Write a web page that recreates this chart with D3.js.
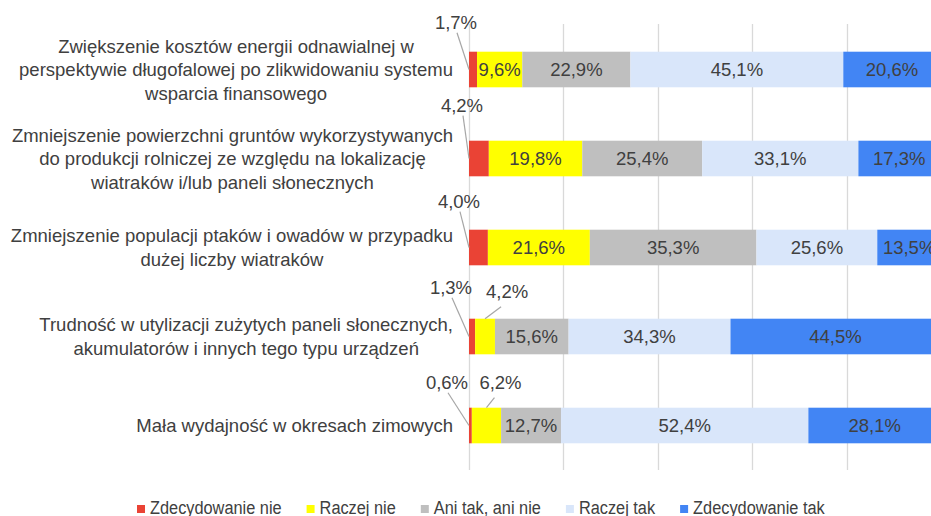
<!DOCTYPE html>
<html>
<head>
<meta charset="utf-8">
<script src="https://cdn.jsdelivr.net/npm/d3@7/dist/d3.min.js"></script>
<style>
  html, body { margin: 0; padding: 0; background: #fff; overflow: hidden; }
  svg { display: block; }
</style>
</head>
<body>
<svg id="chart" width="931" height="516"></svg>
<script>
// Survey answers about drawbacks of renewable energy (percent of respondents)
const categories = [
  "Zwiększenie kosztów energii odnawialnej w\nperspektywie długofalowej po zlikwidowaniu systemu\nwsparcia finansowego",
  "Zmniejszenie powierzchni gruntów wykorzystywanych\ndo produkcji rolniczej ze względu na lokalizację\nwiatraków i/lub paneli słonecznych",
  "Zmniejszenie populacji ptaków i owadów w przypadku\ndużej liczby wiatraków",
  "Trudność w utylizacji zużytych paneli słonecznych,\nakumulatorów i innych tego typu urządzeń",
  "Mała wydajność w okresach zimowych"
];
const seriesNames = ["Zdecydowanie nie", "Raczej nie", "Ani tak, ani nie", "Raczej tak", "Zdecydowanie tak"];
const zdecydowanieNie = [1.7, 4.2, 4.0, 1.3, 0.6];
const raczejNie       = [9.6, 19.8, 21.6, 4.2, 6.2];
const aniTakAniNie    = [22.9, 25.4, 35.3, 15.6, 12.7];
const raczejTak       = [45.1, 33.1, 25.6, 34.3, 52.4];
const zdecydowanieTak = [20.6, 17.3, 13.5, 44.5, 28.1];
const xTicks = [0, 20, 40, 60, 80, 100];

const colors = ["#EA4335", "#FFFF00", "#BFBFBF", "#D9E6FA", "#4285F4"];
const textColor = "#404040";
const font = "'Liberation Sans', Arial, sans-serif";

// Small-segment callouts: nudges for the label text (dx, dy) per row
const redNudge = [[-13, -23], [-7, -29], [-10, -22], [-18, -25], [-22, -19]];
const yellowNudge = [null, null, null, [22, -21], [14, -19]];

const svg = d3.select("#chart");
const margin = { left: 469, top: 25, bottom: 46 };
const plotWidth = 472;
const height = 516;

const rows = categories.map((c, i) => {
  const vals = [zdecydowanieNie[i], raczejNie[i], aniTakAniNie[i], raczejTak[i], zdecydowanieTak[i]];
  let acc = 0;
  const segs = vals.map((v, k) => { const s = { k, v, x0: acc, x1: acc + v }; acc += v; return s; });
  return { cat: c, i, segs };
});

const x = d3.scaleLinear().domain([0, 100]).range([margin.left, margin.left + plotWidth]);
const y = d3.scaleBand().domain(categories).range([margin.top, height - margin.bottom])
  .paddingInner(0.6).paddingOuter(0.3);

// Vertical gridlines
svg.append("g").selectAll("line").data(xTicks).join("line")
  .attr("x1", d => Math.round(x(d)) + 0.5).attr("x2", d => Math.round(x(d)) + 0.5)
  .attr("y1", margin.top - 1).attr("y2", height - margin.bottom)
  .attr("stroke", "#D9D9D9").attr("stroke-width", 1.3);

// Stacked bars
const rowG = svg.append("g").selectAll("g").data(rows).join("g");
rowG.selectAll("rect").data(d => d.segs.map(s => ({ ...s, cat: d.cat }))).join("rect")
  .attr("x", s => x(s.x0))
  .attr("width", s => x(s.x1) - x(s.x0))
  .attr("y", s => y(s.cat))
  .attr("height", y.bandwidth())
  .attr("fill", s => colors[s.k]);

const fmt = v => v.toFixed(1).replace(".", ",") + "%";

// Labels inside wide segments
rowG.selectAll("text.inside").data(d => d.segs.filter(s => s.v >= 7).map(s => ({ ...s, cat: d.cat }))).join("text")
  .attr("class", "inside")
  .attr("x", s => (x(s.x0) + x(s.x1)) / 2)
  .attr("y", s => y(s.cat) + y.bandwidth() / 2)
  .attr("dy", "0.36em")
  .attr("text-anchor", "middle")
  .attr("font-family", font).attr("font-size", 18.5)
  .attr("fill", textColor)
  .text(s => fmt(s.v));

// Callouts for narrow segments
rows.forEach(r => {
  r.segs.filter(s => s.v < 7).forEach(s => {
    const top = y(r.cat);
    const mid = top + y.bandwidth() / 2;
    let tx, ty, lx1, ly1, lx2, ly2;
    if (s.k === 0) {
      const n = redNudge[r.i];
      tx = x(s.x0) + n[0]; ty = top + n[1];
      lx1 = tx + 1; ly1 = ty + 4; lx2 = x(s.x0); ly2 = mid;
    } else {
      const n = yellowNudge[r.i];
      const cx = (x(s.x0) + x(s.x1)) / 2;
      tx = cx + n[0]; ty = top + n[1];
      lx1 = tx - 6; ly1 = ty + 9; lx2 = cx; ly2 = top;
    }
    svg.append("line")
      .attr("x1", lx1).attr("y1", ly1).attr("x2", lx2).attr("y2", ly2)
      .attr("stroke", "#A6A6A6").attr("stroke-width", 1.2);
    svg.append("text")
      .attr("x", tx).attr("y", ty)
      .attr("text-anchor", "middle")
      .attr("font-family", font).attr("font-size", 18.5)
      .attr("fill", textColor)
      .text(fmt(s.v));
  });
});

// Category labels: right-aligned blocks, centred lines
const labelRight = 453;
const lineH = 23.5;
rows.forEach(r => {
  const lines = r.cat.split("\n");
  const g = svg.append("g");
  const mid = y(r.cat) + y.bandwidth() / 2;
  const texts = lines.map((ln, j) => g.append("text")
    .attr("y", mid + (j - (lines.length - 1) / 2) * lineH)
    .attr("dy", "0.36em")
    .attr("text-anchor", "middle")
    .attr("font-family", font).attr("font-size", 18.5)
    .attr("fill", textColor)
    .text(ln));
  const w = d3.max(texts, t => t.node().getComputedTextLength());
  texts.forEach(t => t.attr("x", labelRight - w / 2));
});

// Legend, set in a horizontally condensed face
const legend = svg.append("g");
const squeeze = 0.86;
let lx = 137;
seriesNames.forEach((name, k) => {
  legend.append("rect").attr("x", lx).attr("y", 505).attr("width", 8).attr("height", 8).attr("fill", colors[k]);
  const t = legend.append("text")
    .attr("transform", `translate(${lx + 13},514) scale(${squeeze},1)`)
    .attr("font-family", font)
    .attr("font-size", 19)
    .attr("fill", textColor)
    .text(name);
  lx += 13 + t.node().getComputedTextLength() * squeeze + 25;
});
</script>
</body>
</html>
